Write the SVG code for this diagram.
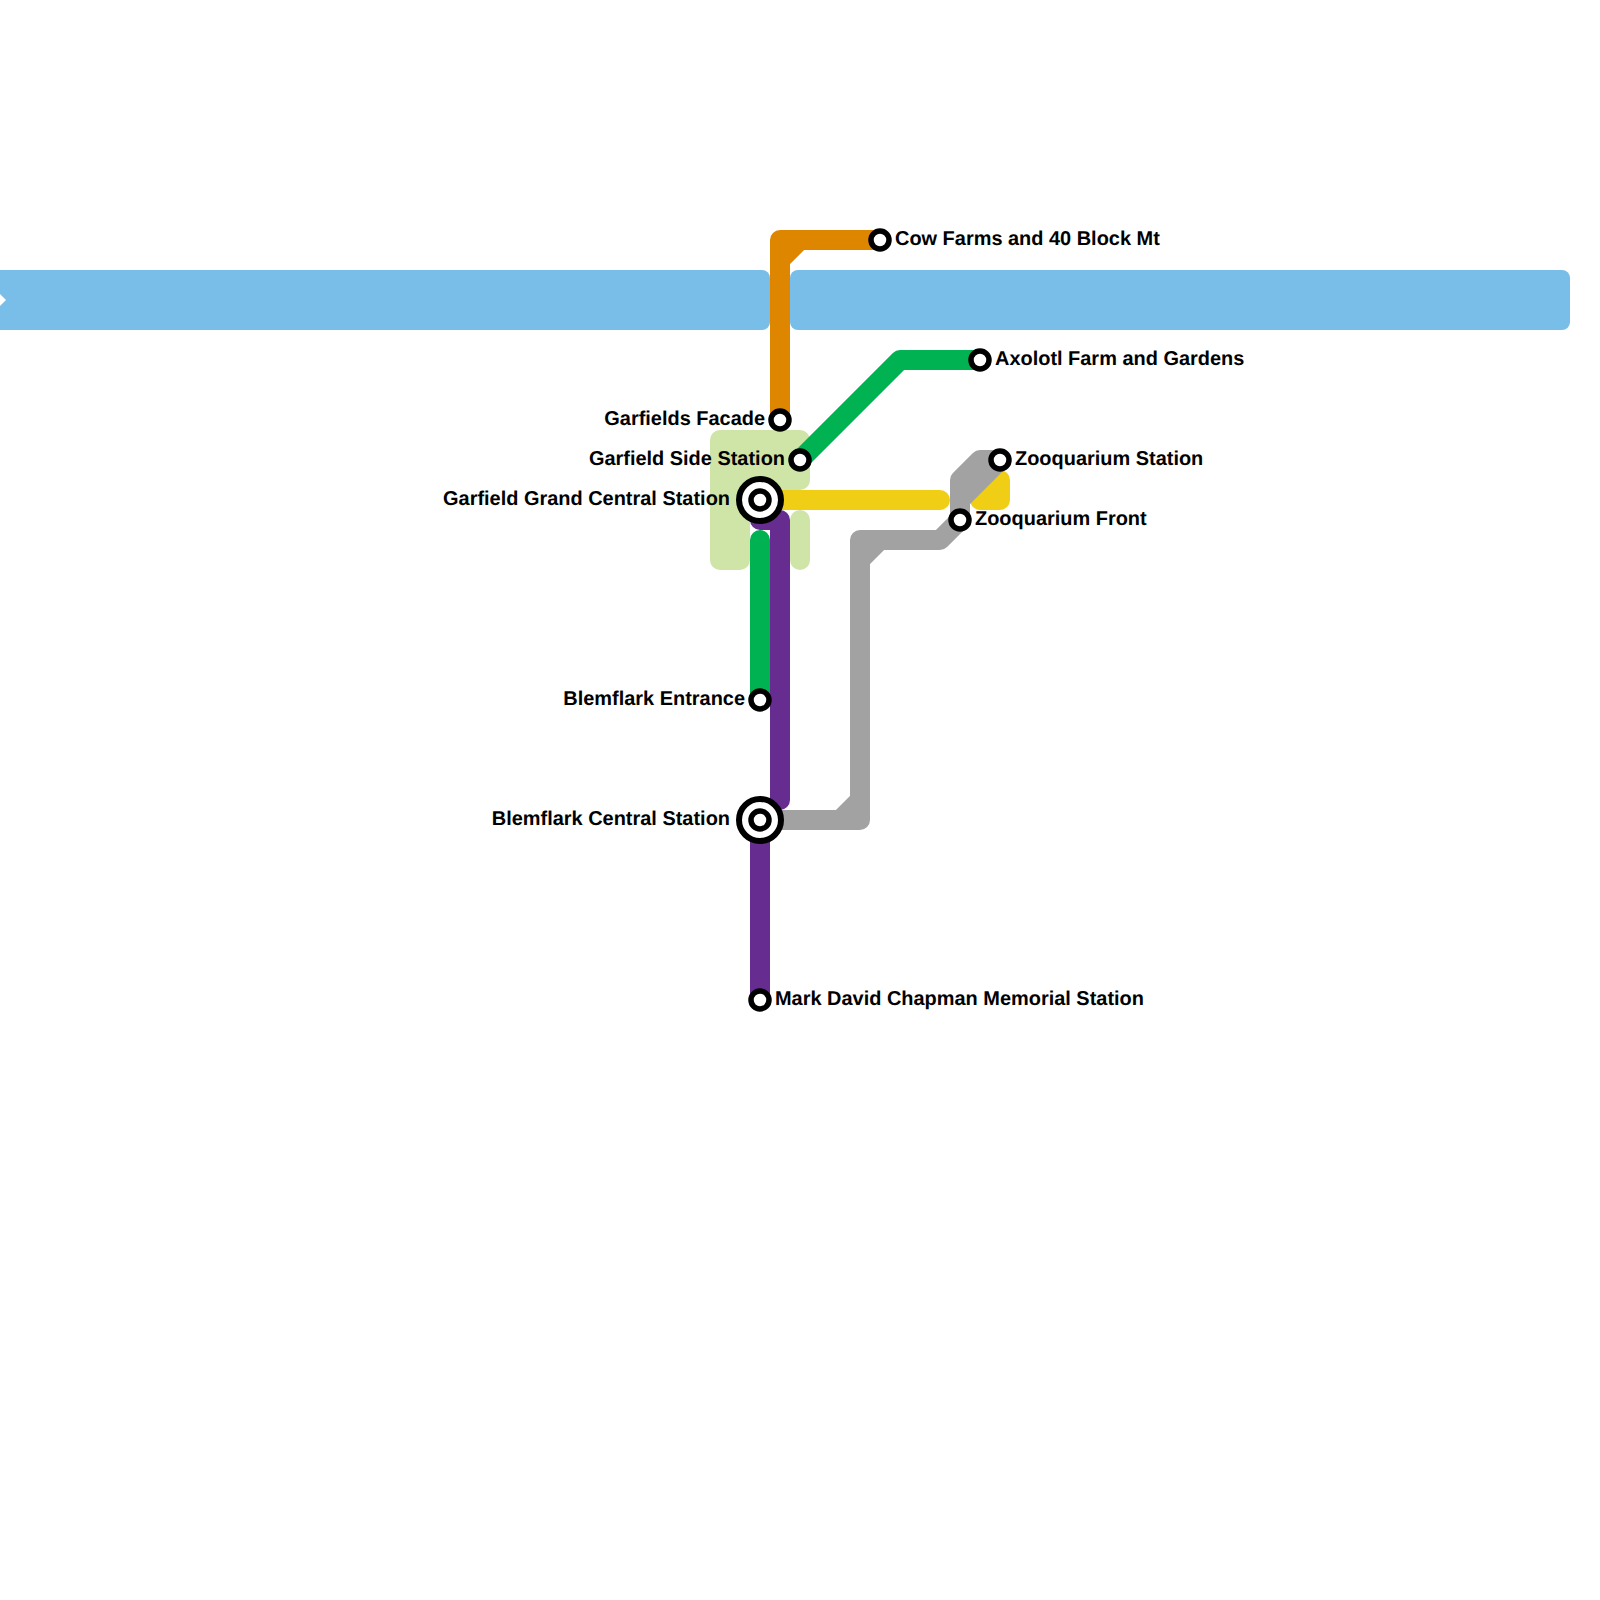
<svg xmlns="http://www.w3.org/2000/svg" width="1600" height="1600" viewBox="0 0 1600 1600">
<style>
.line{fill:none;stroke-width:20;stroke-linecap:round;stroke-linejoin:round}
.st{fill:#fff;stroke:#000;stroke-width:5.5}
.big{fill:#fff;stroke:#000;stroke-width:6}
text{font-family:"Liberation Sans",Arial,sans-serif;font-weight:bold;font-size:19.95px;fill:#000;text-rendering:geometricPrecision}
.e{text-anchor:end}
</style>
<rect width="1600" height="1600" fill="#fff"/>
<g id="water">
<rect x="-20" y="270" width="790" height="60" rx="8" fill="#79bde9"/>
<rect x="790" y="270" width="780" height="60" rx="8" fill="#79bde9"/>
<polygon points="-6,300 0,294 6,300 0,306" fill="#fff"/>
</g>
<g id="park" fill="#cfe4a7">
<path d="M720 430H800a10 10 0 0 1 10 10V480a10 10 0 0 1-10 10H750V560a10 10 0 0 1-10 10H720a10 10 0 0 1-10-10V440a10 10 0 0 1 10-10Z"/>
<rect x="790" y="510" width="20" height="60" rx="10"/>
</g>
<g id="connectors">
<path class="line" stroke="#df8600" d="M780 420V240H880M780 260L800 240"/>
<path class="line" stroke="#662c90" d="M760 1000V820M780 800V520H760"/>
<path class="line" stroke="#f0ce15" d="M770 500H940"/>
<path class="line" stroke="#f0ce15" style="fill:#f0ce15" d="M980 500H1000V480Z"/>
<path class="line" stroke="#a2a2a2" d="M760 820H860V540H940L960 520V480L980 460H1000M840 820L860 800M860 560L880 540M960 500L1000 460"/>
<path class="line" stroke="#00b251" d="M760 700V540M800 460L900 360H980"/>
</g>
<g id="cow-farms"><circle class="st" cx="880" cy="240" r="9"/><text x="895" y="245">Cow Farms and 40 Block Mt</text></g>
<g id="axolotl-farm"><circle class="st" cx="980" cy="360" r="9"/><text x="995" y="365">Axolotl Farm and Gardens</text></g>
<g id="garfields-facade"><circle class="st" cx="780" cy="420" r="9"/><text class="e" x="765" y="425">Garfields Facade</text></g>
<g id="garfield-side"><circle class="st" cx="800" cy="460" r="9"/><text class="e" x="785" y="465">Garfield Side Station</text></g>
<g id="zooquarium-station"><circle class="st" cx="1000" cy="460" r="9"/><text x="1015" y="465">Zooquarium Station</text></g>
<g id="zooquarium-front"><circle class="st" cx="960" cy="520" r="9"/><text x="975" y="525">Zooquarium Front</text></g>
<g id="garfield-grand"><circle class="big" cx="760" cy="500" r="21"/><circle class="st" cx="760" cy="500" r="9"/><text class="e" x="730" y="505">Garfield Grand Central Station</text></g>
<g id="blemflark-entrance"><circle class="st" cx="760" cy="700" r="9"/><text class="e" x="745" y="705">Blemflark Entrance</text></g>
<g id="blemflark-central"><circle class="big" cx="760" cy="820" r="21"/><circle class="st" cx="760" cy="820" r="9"/><text class="e" x="730" y="825">Blemflark Central Station</text></g>
<g id="mark-david"><circle class="st" cx="760" cy="1000" r="9"/><text x="775" y="1005">Mark David Chapman Memorial Station</text></g>
</svg>
